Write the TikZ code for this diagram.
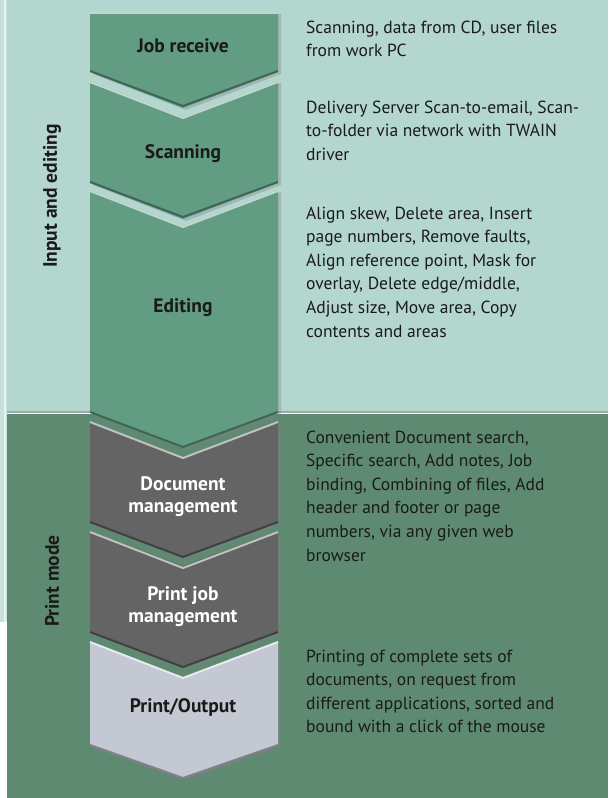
\documentclass[tikz,border=0pt]{standalone}
\usepackage{fontspec}
\setmainfont{PT Sans}
\usetikzlibrary{shadows}
\definecolor{toppanel}{HTML}{B3D6CF}
\definecolor{botpanel}{HTML}{5E8A72}
\definecolor{chgreen}{HTML}{619C83}
\definecolor{chgray}{HTML}{646464}
\definecolor{chlight}{HTML}{C4C8D3}
\definecolor{txt}{HTML}{1A1A1A}
\begin{document}
\begin{tikzpicture}[x=1pt,y=-1pt,
  chevbody/.style={fill=#1, drop shadow={shadow xshift=3pt,shadow yshift=-2pt,opacity=0.35}},
  hilite/.style={draw=white,draw opacity=0.6,line width=2pt},
  lowlite/.style={draw=black,draw opacity=0.35,line width=2pt},
  desc/.style={anchor=base west,font=\fontsize{17.5}{23.6}\selectfont,text=txt,inner sep=0pt},
  chlab/.style={align=center,font=\fontsize{19.5}{22}\selectfont\bfseries,inner sep=0pt},
  lane/.style={rotate=90,font=\fontsize{19.5}{22}\selectfont\bfseries,text=txt,inner sep=0pt}]
\useasboundingbox (0,0) rectangle (608,798);
% backgrounds
\fill[white] (0,0) rectangle (608,798);
\fill[toppanel!75!white] (0,0) rectangle (7,622);
\fill[white,opacity=0.6] (4,0) rectangle (6,622);
\fill[toppanel] (7,0) rectangle (608,412);
\fill[black!35] (7,411) rectangle (608,413);
\fill[botpanel] (7,414) rectangle (608,798);
% chevrons
\path[chevbody=chlight] (90,641) -- (183,677) -- (278,641) -- (278,746) -- (183,779) -- (90,746) -- cycle;
\path[chevbody=chgray] (90,531) -- (183,566) -- (278,531) -- (278,633) -- (183,668) -- (90,633) -- cycle;
\path[chevbody=chgray] (90,421) -- (183,457) -- (278,421) -- (278,523) -- (183,558) -- (90,523) -- cycle;
\path[chevbody=chgreen] (90,190) -- (183,226) -- (278,190) -- (278,413) -- (183,448) -- (90,413) -- cycle;
\path[chevbody=chgreen] (90,81) -- (183,117) -- (278,81) -- (278,183) -- (183,219) -- (90,183) -- cycle;
\path[chevbody=chgreen] (90,12) -- (278,12) -- (278,72) -- (183,108) -- (90,72) -- cycle;
% highlights and shadows
\draw[hilite] (90,13) -- (278,13);
\foreach \t in {81,190,421,531,641}{\draw[hilite] (90,\t+1) -- (183,\t+37) -- (278,\t+1);}
\foreach \b in {72,183,413,523,633}{\draw[lowlite] (90,\b-1) -- (183,\b+34) -- (278,\b-1);}
\draw[lowlite] (90,745) -- (183,778) -- (278,745);
% chevron labels
\node[chlab,text=txt] (c1) at (183,46) {Job receive};
\node[chlab,text=txt] (c2) at (183,154) {Scanning};
\node[chlab,text=txt] (c3) at (183,308) {Editing};
\node[chlab,text=white] (c4) at (183,497) {Document\\management};
\node[chlab,text=white] (c5) at (183,607) {Print job\\management};
\node[chlab,text=txt] (c6) at (183,707) {Print/Output};
% lane labels
\node[lane] (l1) at (52,196) {Input and editing};
\node[lane] (l2) at (52,581) {Print mode};
% descriptions
\node[desc] (d1) at (306,33) {\begin{tabular}[t]{@{}l@{}}Scanning, data from CD, user files\\from work PC\end{tabular}};
\node[desc] (d2) at (306,113) {\begin{tabular}[t]{@{}l@{}}Delivery Server Scan-to-email, Scan-\\to-folder via network with TWAIN\\driver\end{tabular}};
\node[desc] (d3) at (306,219) {\begin{tabular}[t]{@{}l@{}}Align skew, Delete area, Insert\\page numbers, Remove faults,\\Align reference point, Mask for\\overlay, Delete edge/middle,\\Adjust size, Move area, Copy\\contents and areas\end{tabular}};
\node[desc] (d4) at (306,443) {\begin{tabular}[t]{@{}l@{}}Convenient Document search,\\Specific search, Add notes, Job\\binding, Combining of files, Add\\header and footer or page\\numbers, via any given web\\browser\end{tabular}};
\node[desc] (d5) at (306,662) {\begin{tabular}[t]{@{}l@{}}Printing of complete sets of\\documents, on request from\\different applications, sorted and\\bound with a click of the mouse\end{tabular}};
\end{tikzpicture}
\end{document}
